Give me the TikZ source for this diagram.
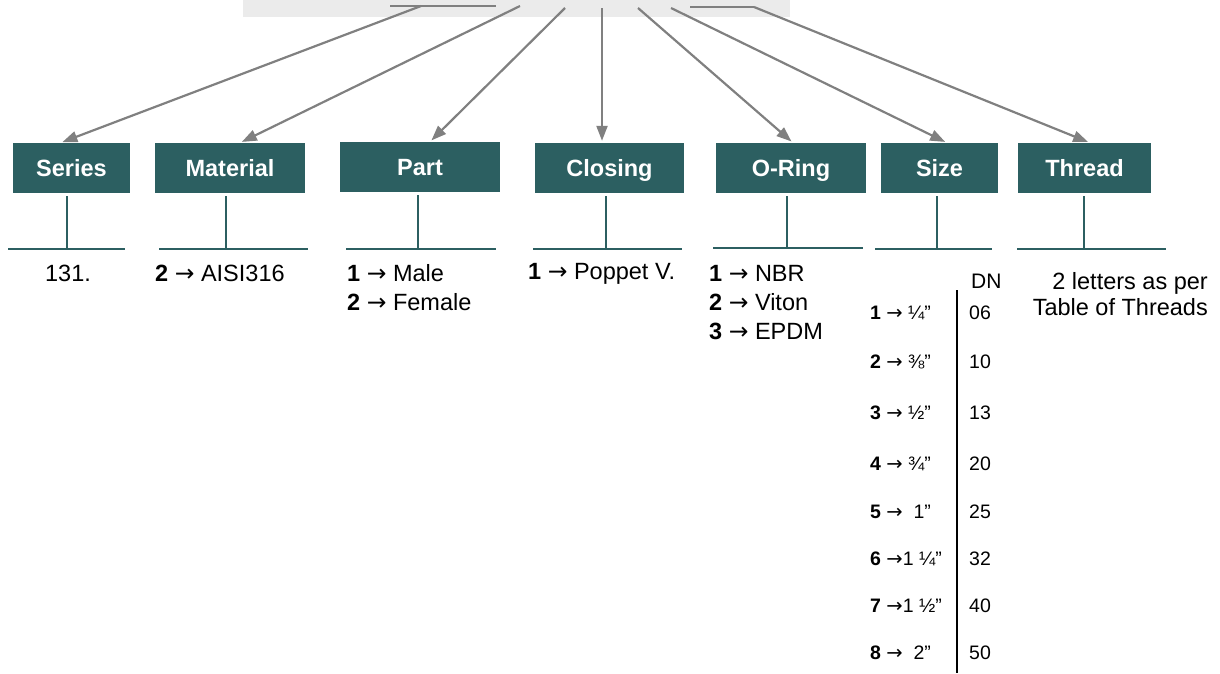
\documentclass[tikz,border=0pt]{standalone}
\usepackage{fontspec}
\setmainfont{Liberation Sans}
\newfontfamily\arrowfont{DejaVu Sans}
\usetikzlibrary{arrows.meta}

\definecolor{boxteal}{HTML}{2C5F61}
\definecolor{bandgray}{HTML}{EBEBEB}
\definecolor{arrowgray}{HTML}{808080}

\newcommand{\pickarrow}{{\arrowfont →}}

\tikzset{
  titlebox/.style={fill=boxteal, text=white, inner sep=0pt, minimum height=50pt,
    text height=16.8pt, text depth=0pt, font=\fontsize{23.5}{28}\selectfont\bfseries},
  pointer/.style={draw=arrowgray, line width=2.2pt, shorten >=2pt,
    -{Triangle[length=15pt,width=11pt]}},
  stem/.style={draw=boxteal, line width=2.5pt, shorten <=3pt},
  bar/.style={draw=boxteal, line width=2.7pt},
  choice/.style={inner sep=0pt, anchor=base west, font=\fontsize{23.5}{28}\selectfont},
  sizerow/.style={inner sep=0pt, anchor=base west, font=\fontsize{19.5}{23}\selectfont},
}

\begin{document}
\begin{tikzpicture}[x=1pt,y=-1pt]
            \useasboundingbox (0,0) rectangle (1220,673);
            % grey band with the start points
            \fill[bandgray] (243,0) rectangle (790,17);
            \draw[arrowgray, line width=2.2pt] (390,6) -- (496,6) (690,7) -- (754,7);
            \coordinate (s1) at (421,6);
            \coordinate (s2) at (520,6);
            \coordinate (s3) at (565,8);
            \coordinate (s4) at (602,8);
            \coordinate (s5) at (638,8);
            \coordinate (s6) at (671,8);
            \coordinate (s7) at (754,7);
            % title boxes
            \node (series) at (71.5,168) [titlebox, minimum width=117pt] {Series};
            \node (material) at (230,168) [titlebox, minimum width=150pt] {Material};
            \node (part) at (420,167) [titlebox, minimum width=160pt] {Part};
            \node (closing) at (609.5,168) [titlebox, minimum width=149pt] {Closing};
            \node (oring) at (791,168) [titlebox, minimum width=150pt] {O-Ring};
            \node (size) at (939.5,168) [titlebox, minimum width=117pt] {Size};
            \node (thread) at (1084.5,168) [titlebox, minimum width=133pt] {Thread};
            \draw[pointer] (s1) -- ([xshift=-11pt]series.north);
            \draw[pointer] (s2) -- ([xshift=10pt]material.north);
            \draw[pointer] (s3) -- ([xshift=10pt]part.north);
            \draw[pointer] (s4) -- ([xshift=-7.5pt]closing.north);
            \draw[pointer] (s5) -- ([xshift=2pt]oring.north);
            \draw[pointer] (s6) -- ([xshift=7.5pt]size.north);
            \draw[pointer] (s7) -- ([xshift=5.5pt]thread.north);
            % stems and bars
            \coordinate (seriesbar) at (67,249);
            \coordinate (materialbar) at (226,249);
            \coordinate (partbar) at (418,249);
            \coordinate (closingbar) at (606,249);
            \coordinate (oringbar) at (787,248);
            \coordinate (sizebar) at (937,249);
            \coordinate (threadbar) at (1084,249);
            \draw[stem] (seriesbar |- series.south) -- (seriesbar);
            \draw[stem] (materialbar |- material.south) -- (materialbar);
            \draw[stem] (partbar |- part.south) -- (partbar);
            \draw[stem] (closingbar |- closing.south) -- (closingbar);
            \draw[stem] (oringbar |- oring.south) -- (oringbar);
            \draw[stem] (sizebar |- size.south) -- (sizebar);
            \draw[stem] (threadbar |- thread.south) -- (threadbar);
            \draw[bar] (8,249) -- (125,249) (159,249) -- (308,249) (346,249) -- (496,249)
              (533,249) -- (682,249) (713,248) -- (863,248) (875,249) -- (992,249)
              (1017,249) -- (1166,249);
            % choices
            \node (seriesval) at (68,281.5) [choice, anchor=base] {131.};
            \node (mat1) at (155,281.5) [choice] {\textbf{2} \pickarrow\ AISI316};
            \node (part1) at (347,281.5) [choice] {\textbf{1} \pickarrow\ Male};
            \node (part2) at (347,310.5) [choice] {\textbf{2} \pickarrow\ Female};
            \node (clos1) at (528,279.5) [choice] {\textbf{1} \pickarrow\ Poppet V.};
            \node (ring1) at (709,281.5) [choice] {\textbf{1} \pickarrow\ NBR};
            \node (ring2) at (709,310.5) [choice] {\textbf{2} \pickarrow\ Viton};
            \node (ring3) at (709,339.5) [choice] {\textbf{3} \pickarrow\ EPDM};
            \node (thr1) at (1208,289) [choice, anchor=base east] {2 letters as per};
            \node (thr2) at (1208,315) [choice, anchor=base east] {Table of Threads};
            % size table
            \node (dn) at (971,288.5) [choice, font=\fontsize{21}{25}\selectfont] {DN};
            \draw[line width=2pt] (957,290) -- (957,673);
            \node (sz1) at (870,319.5) [sizerow] {\textbf{1} \pickarrow\ ¼”};
            \node (sz2) at (870,368.5) [sizerow] {\textbf{2} \pickarrow\ ⅜”};
            \node (sz3) at (870,419.5) [sizerow] {\textbf{3} \pickarrow\ ½”};
            \node (sz4) at (870,470.5) [sizerow] {\textbf{4} \pickarrow\ ¾”};
            \node (sz5) at (870,518.5) [sizerow] {\textbf{5} \pickarrow\ \ 1”};
            \node (sz6) at (870,565.5) [sizerow] {\textbf{6} \pickarrow1 ¼”};
            \node (sz7) at (870,612.5) [sizerow] {\textbf{7} \pickarrow1 ½”};
            \node (sz8) at (870,659.5) [sizerow] {\textbf{8} \pickarrow\ \ 2”};
            \node (dn1) at (969,319.5) [sizerow] {06};
            \node (dn2) at (969,368.5) [sizerow] {10};
            \node (dn3) at (969,419.5) [sizerow] {13};
            \node (dn4) at (969,470.5) [sizerow] {20};
            \node (dn5) at (969,518.5) [sizerow] {25};
            \node (dn6) at (969,565.5) [sizerow] {32};
            \node (dn7) at (969,612.5) [sizerow] {40};
            \node (dn8) at (969,659.5) [sizerow] {50};
\end{tikzpicture}
\end{document}
